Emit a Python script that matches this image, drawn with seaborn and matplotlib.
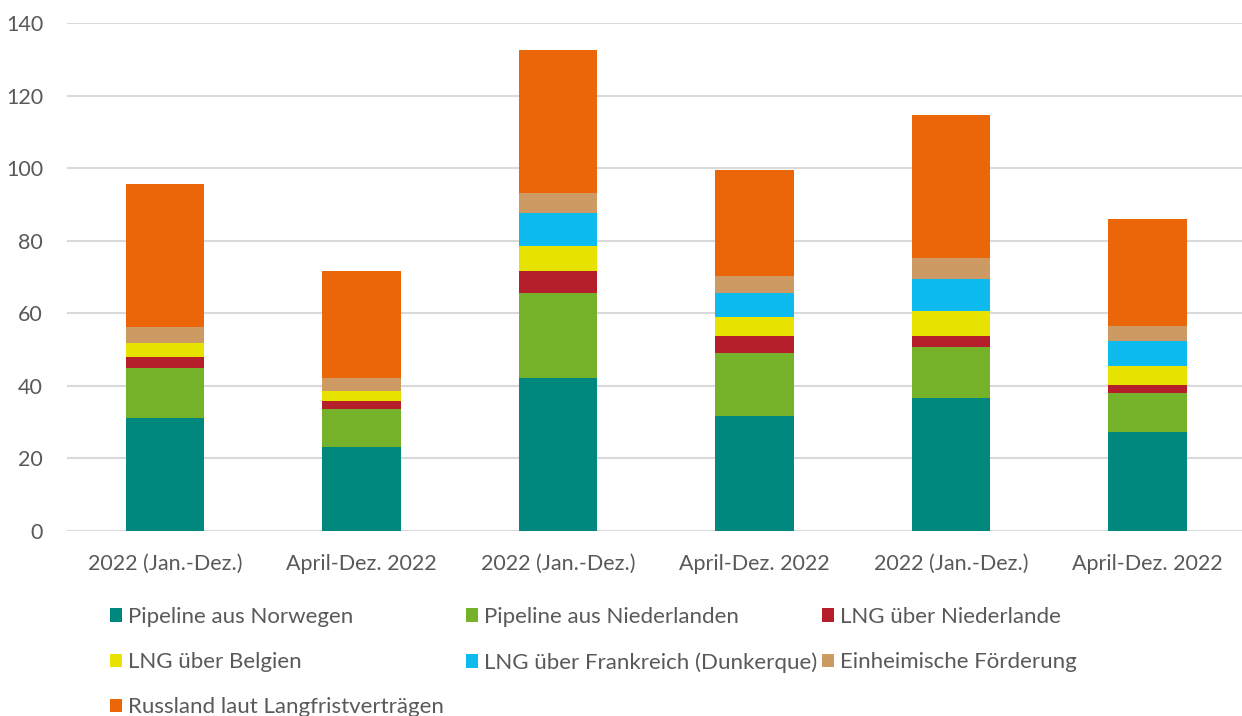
import matplotlib
matplotlib.use("Agg")
import matplotlib.pyplot as plt
from matplotlib.patches import Patch
import seaborn as sns
import pandas as pd
import numpy as np

categories = ["2022 (Jan.-Dez.)", "April-Dez. 2022", "2022 (Jan.-Dez.)",
              "April-Dez. 2022", "2022 (Jan.-Dez.)", "April-Dez. 2022"]
series_names = ["Pipeline aus Norwegen", "Pipeline aus Niederlanden", "LNG über Niederlande",
                "LNG über Belgien", "LNG über Frankreich (Dunkerque)", "Einheimische Förderung",
                "Russland laut Langfristverträgen"]
norwegen = [31.0, 23.2, 42.0, 31.6, 36.5, 27.3]
niederlanden = [13.9, 10.4, 23.5, 17.5, 14.2, 10.7]
lng_nl = [3.0, 2.3, 6.0, 4.5, 2.9, 2.2]
lng_be = [3.9, 2.7, 7.1, 5.2, 7.0, 5.1]
lng_fr = [0.0, 0.0, 9.1, 6.8, 8.9, 7.0]
einheimisch = [4.5, 3.6, 5.4, 4.5, 5.8, 4.2]
russland = [39.2, 29.5, 39.4, 29.3, 39.3, 29.5]
colors = ["#00877E", "#76B12A", "#B51F2C", "#E8E200", "#0DBBEE", "#CC9A62", "#EB6608"]
yticks = [0, 20, 40, 60, 80, 100, 120, 140]

sns.set_theme(style="white")
plt.rcParams["font.family"] = ["Lato", "DejaVu Sans"]
TXT = "#595959"

values = [norwegen, niederlanden, lng_nl, lng_be, lng_fr, einheimisch, russland]
ids = [f"c{i}" for i in range(len(categories))]
cum = np.cumsum(np.array(values), axis=0)

fig = plt.figure(figsize=(12.42, 7.16), dpi=100)
ax = fig.add_axes([66.7 / 1242, 1 - 530.7 / 716, (1246 - 66.7) / 1242, (530.7 - 23) / 716])

for k in range(len(values) - 1, -1, -1):
    df = pd.DataFrame({"id": ids, "val": cum[k]})
    sns.barplot(data=df, x="id", y="val", order=ids, color=colors[k], width=0.4,
                saturation=1, ax=ax, linewidth=0, zorder=3)

ax.set_ylim(0, 140)
ax.set_xlim(-0.5, len(categories) - 0.5)
ax.set_yticks(yticks)
ax.set_xticks(range(len(categories)), categories)
ax.set_xlabel("")
ax.set_ylabel("")
for s in ax.spines.values():
    s.set_visible(False)
ax.grid(axis="y", color="#D9D9D9", linewidth=1.5, zorder=0)
ax.set_axisbelow(True)
ax.tick_params(axis="y", length=0, pad=17, labelsize=15.5, labelcolor=TXT)
ax.tick_params(axis="x", length=0, pad=17, labelsize=15.5, labelcolor=TXT)

col_x = [110 / 1242, 466 / 1242, 822 / 1242]
for c in range(3):
    idx = [i for i in range(len(series_names)) if i % 3 == c]
    handles = [Patch(facecolor=colors[i], edgecolor="none") for i in idx]
    labels = [series_names[i] for i in idx]
    fig.legend(handles, labels, loc="upper left", bbox_to_anchor=(col_x[c], 1 - 607 / 716),
               frameon=False, fontsize=16, labelcolor=TXT, handlelength=0.55, handleheight=0.55,
               handletextpad=0.25, labelspacing=1.13, borderaxespad=0, borderpad=0)

fig.savefig("out.png", dpi=100)
